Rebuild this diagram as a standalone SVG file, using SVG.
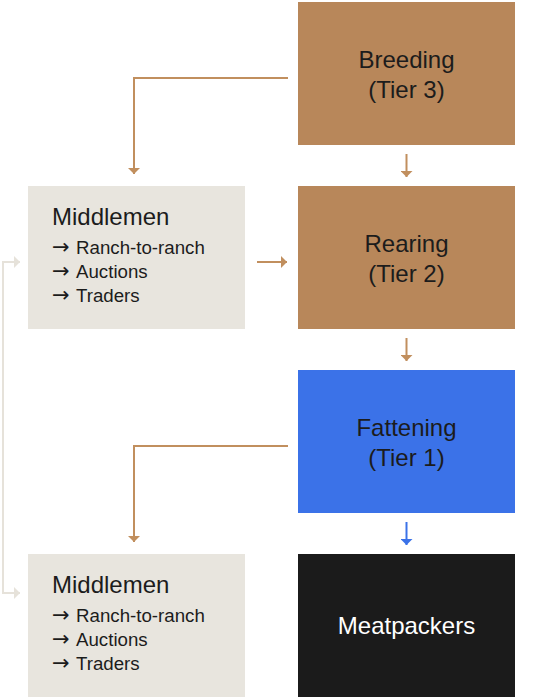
<svg xmlns="http://www.w3.org/2000/svg" width="540" height="698" viewBox="0 0 540 698">
  <defs>
    <style>
      .tier { fill: #b8875a; }
      .mid { fill: #e8e5de; }
      .lbl { font-family: "Liberation Sans", Arial, sans-serif; font-size: 24px; fill: #1c1c1c; text-anchor: middle; }
      .head { font-family: "Liberation Sans", Arial, sans-serif; font-size: 24px; fill: #1c1c1c; }
      .item { font-family: "Liberation Sans", Arial, sans-serif; font-size: 18.7px; fill: #1c1c1c; }
      .arr { font-family: "DejaVu Sans", sans-serif; font-size: 21px; }
      .conn { fill: none; stroke: #c18f5e; stroke-width: 2; }
      .connb { fill: none; stroke: #3b72e8; stroke-width: 2; }
      .connl { fill: none; stroke: #e6e2da; stroke-width: 2; }
    </style>
    <marker id="ah" viewBox="0 0 6 12" refX="6" refY="6" markerWidth="6" markerHeight="12" markerUnits="userSpaceOnUse" orient="auto">
      <path d="M0,0 L6,6 L0,12 z" fill="#c18f5e"/>
    </marker>
    <marker id="ahb" viewBox="0 0 6 12" refX="6" refY="6" markerWidth="6" markerHeight="12" markerUnits="userSpaceOnUse" orient="auto">
      <path d="M0,0 L6,6 L0,12 z" fill="#3b72e8"/>
    </marker>
    <marker id="ahl" viewBox="0 0 6 12" refX="6" refY="6" markerWidth="6" markerHeight="12" markerUnits="userSpaceOnUse" orient="auto">
      <path d="M0,0 L6,6 L0,12 z" fill="#e6e2da"/>
    </marker>
  </defs>
  <rect width="540" height="698" fill="#ffffff"/>

  <g id="connectors">
    <path class="conn" d="M288,78 H134 V174" marker-end="url(#ah)"/>
    <path class="conn" d="M406.5,154 V177" marker-end="url(#ah)"/>
    <path class="conn" d="M257,262 H287" marker-end="url(#ah)"/>
    <path class="conn" d="M406.5,338 V361" marker-end="url(#ah)"/>
    <path class="conn" d="M288,446 H134 V542" marker-end="url(#ah)"/>
    <path class="connb" d="M406.5,522 V545" marker-end="url(#ahb)"/>
    <path class="connl" d="M20,593 H3 V262 H20" marker-end="url(#ahl)"/>
    <path class="connl" d="M3,593 H20" marker-end="url(#ahl)"/>
  </g>

  <g id="breeding">
    <rect class="tier" x="298" y="2" width="217" height="143"/>
    <text class="lbl" x="406.5" y="68">Breeding</text>
    <text class="lbl" x="406.5" y="98">(Tier 3)</text>
  </g>

  <g id="rearing">
    <rect class="tier" x="298" y="186" width="217" height="143"/>
    <text class="lbl" x="406.5" y="252">Rearing</text>
    <text class="lbl" x="406.5" y="282">(Tier 2)</text>
  </g>

  <g id="fattening">
    <rect x="298" y="370" width="217" height="143" fill="#3b72e8"/>
    <text class="lbl" x="406.5" y="436">Fattening</text>
    <text class="lbl" x="406.5" y="466">(Tier 1)</text>
  </g>

  <g id="meatpackers">
    <rect x="298" y="554" width="217" height="143" fill="#1b1b1b"/>
    <text class="lbl" x="406.5" y="634" style="fill:#ffffff">Meatpackers</text>
  </g>

  <g id="middlemen1">
    <rect class="mid" x="28" y="186" width="217" height="143"/>
    <text class="head" x="52" y="225">Middlemen</text>
    <text class="item" y="254"><tspan class="arr" x="52">→</tspan><tspan x="76">Ranch-to-ranch</tspan></text>
    <text class="item" y="278"><tspan class="arr" x="52">→</tspan><tspan x="76">Auctions</tspan></text>
    <text class="item" y="302"><tspan class="arr" x="52">→</tspan><tspan x="76">Traders</tspan></text>
  </g>

  <g id="middlemen2">
    <rect class="mid" x="28" y="554" width="217" height="143"/>
    <text class="head" x="52" y="593">Middlemen</text>
    <text class="item" y="622"><tspan class="arr" x="52">→</tspan><tspan x="76">Ranch-to-ranch</tspan></text>
    <text class="item" y="646"><tspan class="arr" x="52">→</tspan><tspan x="76">Auctions</tspan></text>
    <text class="item" y="670"><tspan class="arr" x="52">→</tspan><tspan x="76">Traders</tspan></text>
  </g>
</svg>
